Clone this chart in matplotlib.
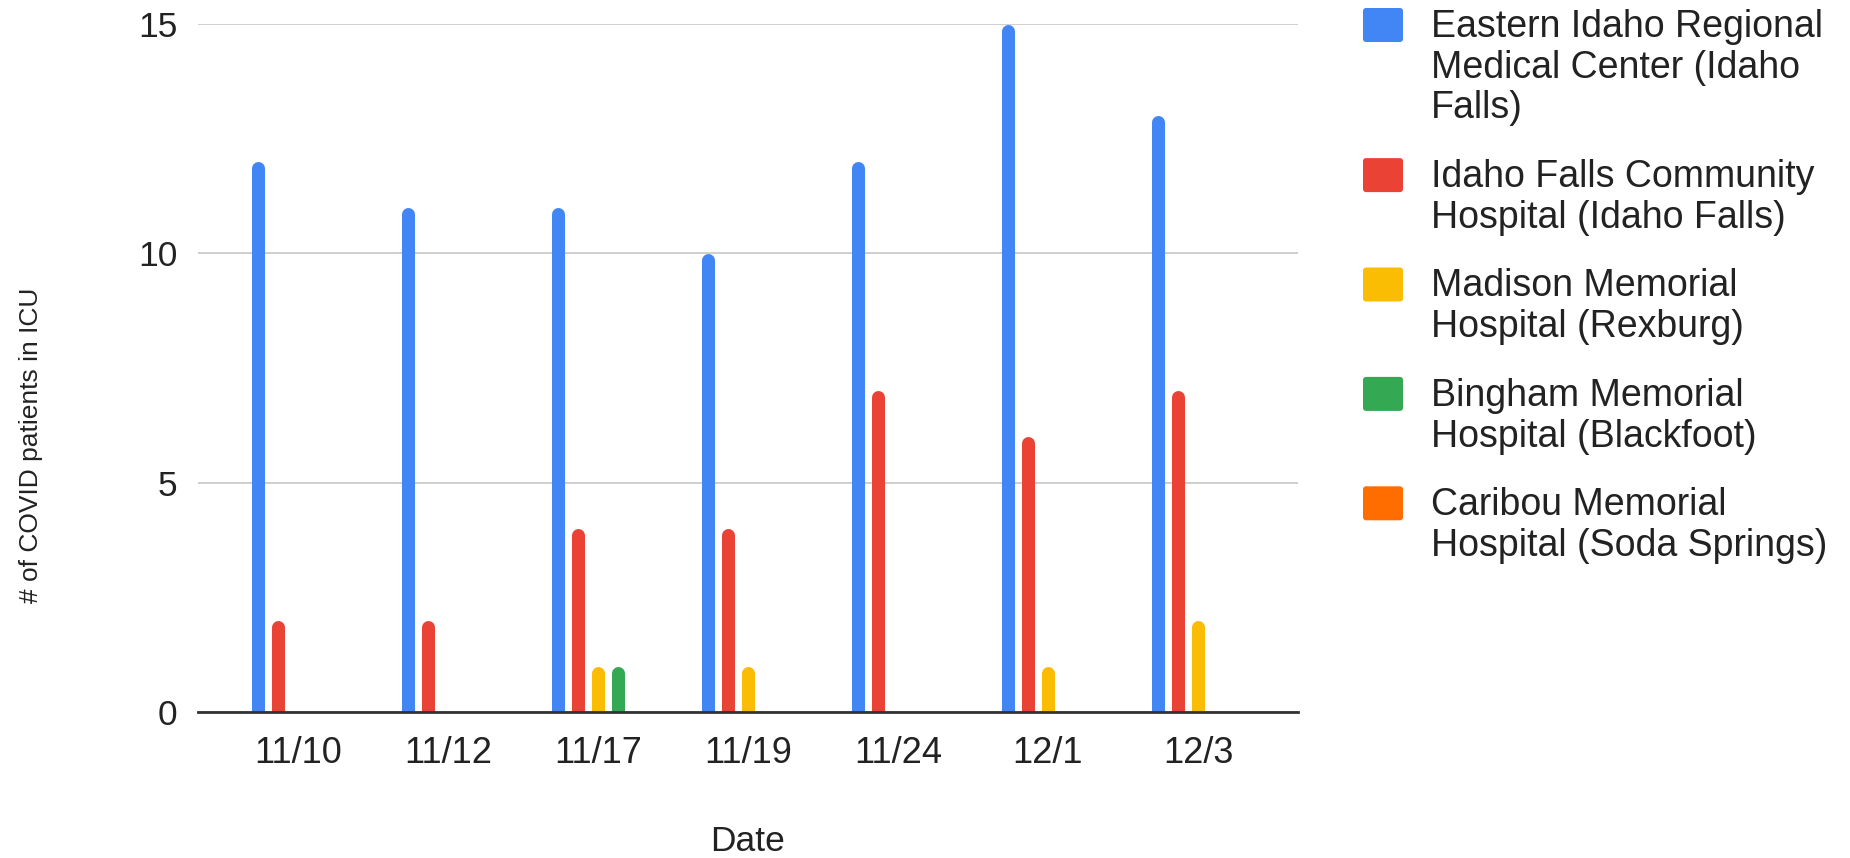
"""ICU COVID patients by hospital, eastern Idaho - grouped bar chart."""

import textwrap

import matplotlib
matplotlib.use("Agg")
import matplotlib.pyplot as plt
from matplotlib.patches import FancyBboxPatch
from matplotlib.transforms import IdentityTransform

dates = ["11/10", "11/12", "11/17", "11/19", "11/24", "12/1", "12/3"]
hospitals = [
    "Eastern Idaho Regional Medical Center (Idaho Falls)",
    "Idaho Falls Community Hospital (Idaho Falls)",
    "Madison Memorial Hospital (Rexburg)",
    "Bingham Memorial Hospital (Blackfoot)",
    "Caribou Memorial Hospital (Soda Springs)",
]
eirmc = [12, 11, 11, 10, 12, 15, 13]
ifch = [2, 2, 4, 4, 7, 6, 7]
madison = [0, 0, 1, 1, 0, 1, 2]
bingham = [0, 0, 1, 0, 0, 0, 0]
caribou = [0, 0, 0, 0, 0, 0, 0]
series = [eirmc, ifch, madison, bingham, caribou]
colors = ["#4285F4", "#EA4335", "#FBBC04", "#34A853", "#FF6D01"]

W, H = 1850, 858
FONT = ["Liberation Sans", "DejaVu Sans"]
TEXT = "#222222"

plt.rcParams["font.family"] = FONT


def px(x, y):
    """Pixel position (from top-left) to figure fraction."""
    return x / W, 1 - y / H


fig = plt.figure(figsize=(W / 100, H / 100), dpi=100)
ax_left, ax_top, ax_right, ax_bottom = 198, 24, 1298, 712
ax = fig.add_axes([ax_left / W, 1 - ax_bottom / H,
                   (ax_right - ax_left) / W, (ax_bottom - ax_top) / H])

ymax = 15
xlim = (-0.667, len(dates) - 1 + 0.667)
px_per_y = (ax_bottom - ax_top) / ymax
px_per_x = (ax_right - ax_left) / (xlim[1] - xlim[0])

# bars: thick vertical lines with round caps; the bottom cap is clipped at y=0
bar_px = 13
pitch = 20 / px_per_x
cap = (bar_px / 2) / px_per_y
for i, (vals, col) in enumerate(zip(series, colors)):
    off = (i - (len(series) - 1) / 2) * pitch
    xs = [k + off for k, v in enumerate(vals) if v > 0]
    tops = [v - cap for v in vals if v > 0]
    ax.vlines(xs, 0, tops, colors=col, linewidth=bar_px * 0.72,
              capstyle="round", zorder=2)

ax.set_xlim(*xlim)
ax.set_ylim(0, ymax)
ax.set_xticks(range(len(dates)))
ax.set_xticklabels(dates)
ax.set_yticks([0, 5, 10, 15])
ax.tick_params(axis="x", length=0, pad=17, labelsize=26, labelcolor=TEXT)
ax.tick_params(axis="y", length=0, pad=15, labelsize=25.5, labelcolor=TEXT)
ax.grid(axis="y", color="#cccccc", linewidth=1.3)
ax.set_axisbelow(True)
for side in ("top", "right", "left"):
    ax.spines[side].set_visible(False)
ax.spines["bottom"].set_color("#333333")
ax.spines["bottom"].set_linewidth(2)

fig.text(*px(748, 851), "Date", ha="center", va="baseline",
         fontsize=25.5, color=TEXT)
fig.text(*px(31, 445), "# of COVID patients in ICU", rotation=90,
         ha="center", va="center", fontsize=19, color=TEXT)

# legend, drawn by hand so the swatch sits on the first text line
line_h = 40.7
y = 25.0
for name, col in zip(hospitals, colors):
    lines = textwrap.wrap(name, 23)
    fig.add_artist(FancyBboxPatch(
        (1363, H - (y + 17)), 40, 34,
        boxstyle="round,pad=0,rounding_size=3",
        facecolor=col, edgecolor="none", transform=IdentityTransform()))
    for j, line in enumerate(lines):
        fig.text(*px(1431, y + 12 + j * line_h), line, ha="left",
                 va="baseline", fontsize=27, color=TEXT)
    y += len(lines) * line_h + 28

fig.savefig("out.png", dpi=100)
